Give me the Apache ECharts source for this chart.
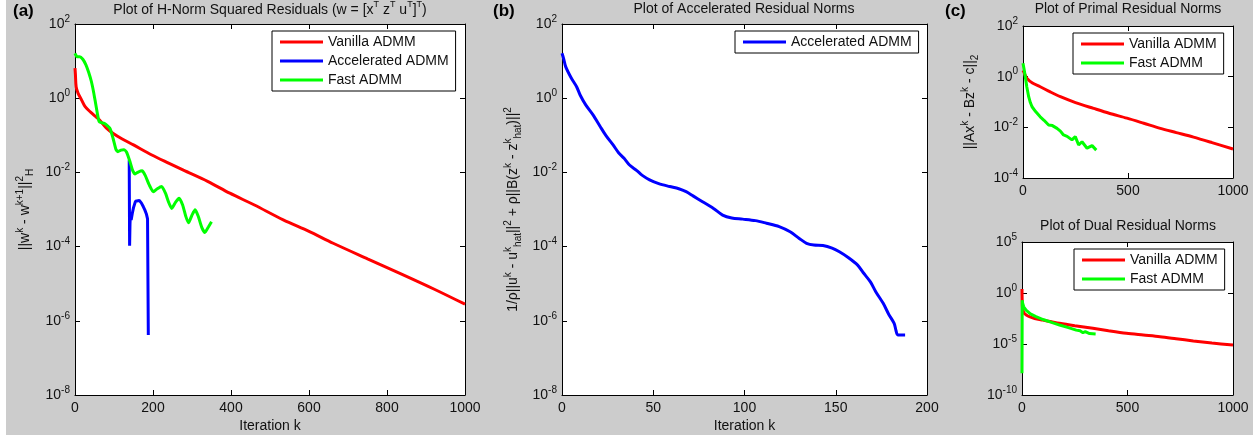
<!DOCTYPE html>
<html><head><meta charset="utf-8">
<script src="https://cdn.jsdelivr.net/npm/echarts@6/dist/echarts.min.js"></script>
<style>html,body{margin:0;padding:0;background:#fff}#c{width:1259px;height:440px}</style>
</head><body><div id="c"></div><script>
// ---- Panel (a): H-norm squared residuals ----
const vanK = [0,1,3,8,17,26,40,56,64,80,98,120,150,197,240,278,340,397,460,534,600,662,750,833,920,1000];
const vanV = [6.46,4.5,2.0,1.35,0.89,0.59,0.42,0.30,0.25,0.158,0.112,0.081,0.055,0.0295,0.0178,0.0115,0.00575,0.00275,0.00132,5.25e-4,2.57e-4,1.23e-4,4.68e-5,1.9e-5,7.2e-6,2.8e-6];
const fastK = [0,5,12,20,28,35,42,48,53,58,62,68,75,82,90,98,105,110,118,125,132,140,148,154,162,172,180,190,201,211,222,232,240,248,258,267,276,284,291,300,308,316,325,333,342,350];
const fastV = [16.2,13.2,13.2,11.2,7.94,5.01,2.82,1.41,0.708,0.355,0.234,0.219,0.209,0.186,0.151,0.0794,0.0417,0.0363,0.0398,0.0407,0.0355,0.0209,0.0112,0.00912,0.0102,0.011,0.00832,0.00468,0.00302,0.00363,0.00417,0.00275,0.00158,0.00107,0.00158,0.002,0.00132,6.6e-4,4.37e-4,7.08e-4,9.77e-4,6.6e-4,3.31e-4,2.4e-4,3.39e-4,4.68e-4];
const accAK = [139,140,141,142,144,147,150,155,160,165,170,175,179,183,186,188,188];
const accAV = [0.0214,1.05e-4,4.0e-4,7.0e-4,5.2e-4,7.9e-4,0.00112,0.00166,0.00182,0.00174,0.00151,0.0012,9.77e-4,7.59e-4,5.62e-4,5.01e-4,4.17e-7];
// ---- Panel (b): accelerated residual norms ----
const accBK = [0,1,2,5,8,10,13,17,21,24,28,31,34,37,41,44,48,53,59,64,68,72,77,83,88,93,99,106,112,119,125,130,134,138,143,148,152,157,162,165,169,172,176,179,182,183,184,188];
const accBV = [16.2,11.2,7.08,3.55,2.04,1.2,0.66,0.355,0.17,0.1,0.055,0.034,0.024,0.0158,0.0112,0.0083,0.0063,0.005,0.00417,0.00363,0.00302,0.00229,0.00162,0.00107,7.08e-4,5.89e-4,5.5e-4,5.01e-4,4.27e-4,3.47e-4,2.51e-4,1.66e-4,1.23e-4,1.1e-4,1.07e-4,9.1e-5,7.24e-5,5.0e-5,3.16e-5,2.0e-5,1.12e-5,6.0e-6,2.95e-6,1.51e-6,8.5e-7,5.5e-7,4.17e-7,4.17e-7];
// ---- Panel (c) top: primal residual norms ----
const priVK = [0,3,19,45,82,130,178,250,336,410,495,575,654,730,812,900,1000];
const priVV = [1.78,1.58,0.85,0.56,0.40,0.25,0.162,0.095,0.056,0.036,0.023,0.0145,0.0091,0.0062,0.0041,0.0025,0.0014];
const priFK = [0,5,11,18,27,35,43,60,82,100,122,140,162,178,193,210,233,249,265,281,305,329,349];
const priFV = [3.39,2.0,1.0,0.40,0.162,0.095,0.065,0.042,0.026,0.019,0.0123,0.0117,0.0091,0.0071,0.005,0.0044,0.0032,0.0043,0.002,0.0027,0.0015,0.0019,0.00126];
// ---- Panel (c) bottom: dual residual norms ----
const duaVK = [0,2,5,11,20,35,60,98,140,178,250,336,410,495,575,654,730,812,900,1000];
const duaVV = [2.45,0.04,0.02,0.01,0.0071,0.0048,0.0032,0.0022,0.0015,0.00107,6.3e-4,3.5e-4,2.0e-4,1.12e-4,7.6e-5,5.2e-5,3.3e-5,2.0e-5,1.26e-5,7.9e-6];
const duaFK = [0,1,3,8,19,40,66,100,140,178,220,257,275,289,300,320,349];
const duaFV = [1.35e-8,0.2,0.1,0.045,0.021,0.0089,0.0048,0.0025,0.0013,7.2e-4,4.0e-4,2.3e-4,2.0e-4,1.3e-4,1.6e-4,1.05e-4,9.5e-5];

const names = {van:'Vanilla ADMM', acc:'Accelerated ADMM', fast:'Fast ADMM'};
const colors = {van:'#ff0000', acc:'#0000ff', fast:'#00ff00'};
const FONT = '"Liberation Sans", Arial, sans-serif';
const TXT = '#111';

const pair = (ks, vs) => ks.map((k, i) => [k, vs[i]]);

const grids = [
  {left:75, top:24, width:390, height:371},
  {left:562, top:24, width:365, height:371},
  {left:1023, top:26, width:210, height:152},
  {left:1022, top:242, width:211, height:153}
].map(g => Object.assign({show:true, backgroundColor:'#fff', borderWidth:0, containLabel:false, outerBoundsMode:'none'}, g));

const richLabel = {
  b:{fontSize:14, fontFamily:FONT, color:TXT, lineHeight:20, verticalAlign:'middle'},
  s:{fontSize:10, fontFamily:FONT, color:TXT, verticalAlign:'top'}
};
const richName = {
  t:{fontSize:14, fontFamily:FONT, color:TXT, lineHeight:20, verticalAlign:'middle'},
  p:{fontSize:10, fontFamily:FONT, color:TXT, verticalAlign:'top'},
  b:{fontSize:10, fontFamily:FONT, color:TXT, verticalAlign:'bottom'}
};
const logFmt = v => '{b|10}{s|' + Math.round(Math.log10(v)) + '}';
const numFmt = v => String(v);

const line = {show:true, onZero:false, lineStyle:{color:'#000', width:1}};
const tick = {show:true, inside:true, length:5, lineStyle:{color:'#000', width:1}};

function xAxes(gi, max, interval, name) {
  const base = {type:'value', gridIndex:gi, min:0, max:max, interval:interval, axisLine:line, axisTick:tick, splitLine:{show:false}};
  return [
    Object.assign({}, base, {position:'bottom', name:name || '', nameLocation:'middle', nameGap:24, nameMoveOverlap:false,
      nameTextStyle:{fontSize:14, fontFamily:FONT, color:TXT},
      axisLabel:{show:true, margin:6, fontSize:14, fontFamily:FONT, color:TXT, formatter:numFmt, showMinLabel:true, showMaxLabel:true, hideOverlap:false}}),
    Object.assign({}, base, {position:'top', axisLabel:{show:false}})
  ];
}
function yAxes(gi, min, max, interval, name, gap) {
  const base = {type:'log', logBase:10, gridIndex:gi, min:min, max:max, interval:interval, axisLine:line, axisTick:tick, splitLine:{show:false}, minorTick:{show:false}};
  return [
    Object.assign({}, base, {position:'left', name:name || '', nameLocation:'middle', nameRotate:90, nameGap:gap || 40, nameMoveOverlap:false,
      nameTextStyle:{rich:richName, fontSize:14, fontFamily:FONT, color:TXT},
      axisLabel:{show:true, margin:5, formatter:logFmt, rich:richLabel, showMinLabel:true, showMaxLabel:true, hideOverlap:false}}),
    Object.assign({}, base, {position:'right', axisLabel:{show:false}})
  ];
}

const xAxis = [].concat(
  xAxes(0, 1000, 200, 'Iteration k'),
  xAxes(1, 200, 50, 'Iteration k'),
  xAxes(2, 1000, 500, ''),
  xAxes(3, 1000, 500, '')
);
const yAxis = [].concat(
  yAxes(0, 1e-8, 1e2, 2, '{t|||w}{p|k}{t| - w}{p|k+1}{t|||}{p|2}{b|H}', 40),
  yAxes(1, 1e-8, 1e2, 2, '{t|1/ρ||u}{p|k}{t| - u}{p|k}{b|hat}{t|||}{p|2}{t| + ρ||B(z}{p|k}{t| - z}{p|k}{b|hat}{t|)||}{p|2}', 39),
  yAxes(2, 1e-4, 1e2, 2, '{t|||Ax}{p|k}{t| - Bz}{p|k}{t| - c||}{b|2}', 43),
  yAxes(3, 1e-10, 1e5, 5, '', 40)
);

function ser(key, gi, ks, vs, smooth) {
  return {type:'line', name:names[key], xAxisIndex:2*gi, yAxisIndex:2*gi, data:pair(ks, vs),
    showSymbol:false, symbol:'none', smooth:smooth || false, animation:false,
    lineStyle:{color:colors[key], width:3}, itemStyle:{color:colors[key]}};
}
const series = [
  ser('van', 0, vanK, vanV, 0.3),
  ser('acc', 0, accAK, accAV),
  ser('fast', 0, fastK, fastV, 0.2),
  ser('acc', 1, accBK, accBV, 0.3),
  ser('van', 2, priVK, priVV, 0.3),
  ser('fast', 2, priFK, priFV),
  ser('van', 3, duaVK, duaVV, 0.3),
  ser('fast', 3, duaFK, duaFV)
];

function leg(data, left, top) {
  return {data:data, left:left, top:top, orient:'vertical', icon:'rect', itemWidth:43, itemHeight:3, itemGap:5,
    padding:[4,7,4,8], backgroundColor:'#fff', borderColor:'#000', borderWidth:1, borderRadius:0,
    selectedMode:false, textStyle:{fontSize:14, fontFamily:FONT, color:TXT}};
}
const legend = [
  leg([names.van, names.acc, names.fast], 272, 31),
  leg([names.acc], 735, 31),
  leg([names.van, names.fast], 1073, 33),
  leg([names.van, names.fast], 1074, 249)
];

const titleStyle = {fontSize:14, fontWeight:'normal', fontFamily:FONT, color:TXT};
const title = [
  {text:'{t|Plot of H-Norm Squared Residuals (w = [x}{p|T}{t| z}{p|T}{t| u}{p|T}{t|]}{p|T}{t|)}', left:270, top:0, textAlign:'center', padding:0,
    textStyle:Object.assign({}, titleStyle, {rich:{t:{fontSize:14, fontFamily:FONT, color:TXT, lineHeight:20, verticalAlign:'middle'}, p:{fontSize:9, fontFamily:FONT, color:TXT, verticalAlign:'top'}}})},
  {text:'Plot of Accelerated Residual Norms', left:744, top:2, textAlign:'center', padding:0, textStyle:titleStyle},
  {text:'Plot of Primal Residual Norms', left:1128, top:2, textAlign:'center', padding:0, textStyle:titleStyle},
  {text:'Plot of Dual Residual Norms', left:1128, top:219, textAlign:'center', padding:0, textStyle:titleStyle},
  {text:'(a)', left:13, top:3, padding:0, textStyle:{fontSize:17, fontWeight:'bold', fontFamily:FONT, color:'#000'}},
  {text:'(b)', left:493, top:3, padding:0, textStyle:{fontSize:17, fontWeight:'bold', fontFamily:FONT, color:'#000'}},
  {text:'(c)', left:945, top:3, padding:0, textStyle:{fontSize:17, fontWeight:'bold', fontFamily:FONT, color:'#000'}}
];

const chart = echarts.init(document.getElementById('c'), null, {renderer:'canvas'});
chart.setOption({
  backgroundColor:'#cccccc',
  animation:false,
  textStyle:{fontFamily:FONT},
  graphic:[
    {type:'rect', left:0, top:0, shape:{width:6, height:440}, style:{fill:'#fff'}, silent:true},
    {type:'rect', left:1253, top:0, shape:{width:6, height:440}, style:{fill:'#fff'}, silent:true},
    {type:'rect', left:0, top:435, shape:{width:1259, height:5}, style:{fill:'#fff'}, silent:true}
  ],
  title:title,
  legend:legend,
  grid:grids,
  xAxis:xAxis,
  yAxis:yAxis,
  series:series
});
</script></body></html>
